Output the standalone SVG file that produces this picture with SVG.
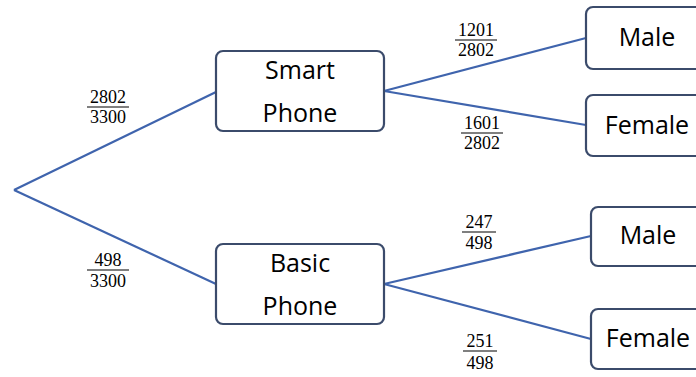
<svg xmlns="http://www.w3.org/2000/svg" width="696" height="377" viewBox="0 0 696 377">
<style>
.box{fill:#fff;stroke:#3b4b6b;stroke-width:2.2}
.lbl{font-family:"Open Sans","Noto Sans","Liberation Sans",sans-serif;font-size:25px;fill:#000;text-anchor:middle}
.frac{font-family:"Liberation Serif","Times New Roman",serif;font-size:18px;fill:#000;text-anchor:middle}
.bar{stroke:#000;stroke-width:1.1}
.edge{stroke:#3f64ad;stroke-width:2.2;fill:none}
</style>
<rect width="696" height="377" fill="#fff"/>
<g id="connectors">
<line class="edge" x1="14" y1="190" x2="216" y2="92"/>
<line class="edge" x1="14" y1="190" x2="216" y2="284"/>
<line class="edge" x1="384" y1="91" x2="586" y2="38"/>
<line class="edge" x1="384" y1="91" x2="586" y2="125"/>
<line class="edge" x1="384" y1="284" x2="591" y2="236"/>
<line class="edge" x1="384" y1="284" x2="591" y2="339"/>
</g>
<g id="smart">
<rect class="box" x="216" y="51" width="168" height="80" rx="7"/>
<text class="lbl" x="300" y="79">Smart</text>
<text class="lbl" x="300" y="122">Phone</text>
</g>
<g id="basic">
<rect class="box" x="216" y="244" width="168" height="80" rx="7"/>
<text class="lbl" x="300" y="272">Basic</text>
<text class="lbl" x="300" y="315">Phone</text>
</g>
<g id="male1">
<rect class="box" x="586" y="7" width="120" height="62" rx="7"/>
<text class="lbl" x="647" y="46">Male</text>
</g>
<g id="female1">
<rect class="box" x="586" y="95" width="120" height="61" rx="7"/>
<text class="lbl" x="647" y="134">Female</text>
</g>
<g id="male2">
<rect class="box" x="591" y="207" width="120" height="59" rx="7"/>
<text class="lbl" x="648" y="244">Male</text>
</g>
<g id="female2">
<rect class="box" x="591" y="309" width="120" height="60" rx="7"/>
<text class="lbl" x="648" y="347">Female</text>
</g>
<g id="labels">
<text class="frac" x="108" y="103">2802</text><line class="bar" x1="87" y1="107" x2="129" y2="107"/><text class="frac" x="108" y="123">3300</text>
<text class="frac" x="108" y="266">498</text><line class="bar" x1="87" y1="270" x2="129" y2="270"/><text class="frac" x="108" y="287">3300</text>
<text class="frac" x="476" y="36">1201</text><line class="bar" x1="455" y1="40" x2="497" y2="40"/><text class="frac" x="476" y="56">2802</text>
<text class="frac" x="482" y="129">1601</text><line class="bar" x1="461" y1="133" x2="503" y2="133"/><text class="frac" x="482" y="149">2802</text>
<text class="frac" x="479" y="228">247</text><line class="bar" x1="462" y1="232" x2="496" y2="232"/><text class="frac" x="479" y="249">498</text>
<text class="frac" x="480" y="347">251</text><line class="bar" x1="463" y1="351" x2="497" y2="351"/><text class="frac" x="480" y="369">498</text>
</g>
</svg>
